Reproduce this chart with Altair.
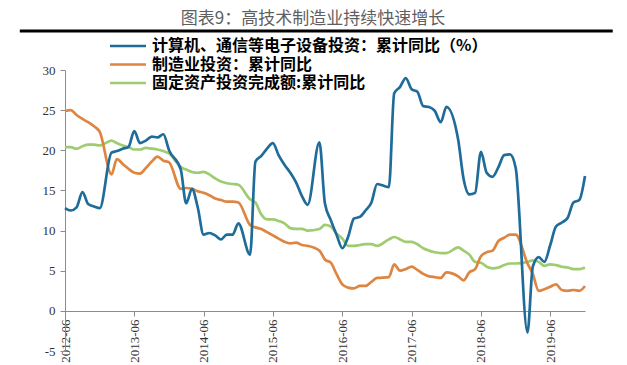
import altair as alt
import pandas as pd

# Months (cumulative data, January merged into February)
months = [
    "2012-06", "2012-07", "2012-08", "2012-09", "2012-10", "2012-11", "2012-12",
    "2013-02", "2013-03", "2013-04", "2013-05", "2013-06", "2013-07", "2013-08", "2013-09", "2013-10", "2013-11", "2013-12",
    "2014-02", "2014-03", "2014-04", "2014-05", "2014-06", "2014-07", "2014-08", "2014-09", "2014-10", "2014-11", "2014-12",
    "2015-02", "2015-03", "2015-04", "2015-05", "2015-06", "2015-07", "2015-08", "2015-09", "2015-10", "2015-11", "2015-12",
    "2016-02", "2016-03", "2016-04", "2016-05", "2016-06", "2016-07", "2016-08", "2016-09", "2016-10", "2016-11", "2016-12",
    "2017-02", "2017-03", "2017-04", "2017-05", "2017-06", "2017-07", "2017-08", "2017-09", "2017-10", "2017-11", "2017-12",
    "2018-02", "2018-03", "2018-04", "2018-05", "2018-06", "2018-07", "2018-08", "2018-09", "2018-10", "2018-11", "2018-12",
    "2019-02", "2019-03", "2019-04", "2019-05", "2019-06", "2019-07", "2019-08", "2019-09", "2019-10", "2019-11", "2019-12",
]

series_names = [
    "计算机、通信等电子设备投资：累计同比（%）",
    "制造业投资：累计同比",
    "固定资产投资完成额:累计同比",
]

electronics = [
    12.8, 12.5, 12.9, 14.8, 13.3, 13.0, 12.8,
    19.7, 19.9, 20.2, 20.4, 22.4, 20.9, 21.2, 21.7, 21.6, 22.0, 20.0,
    17.6, 13.4, 15.2, 12.9, 9.5, 9.7, 9.4, 8.9, 9.5, 9.5, 10.9,
    7.0, 18.6, 19.3, 20.2, 20.9, 19.4, 18.2, 17.2, 16.0, 14.3, 13.2,
    21.0, 13.4, 11.3, 9.5, 7.8, 9.2, 11.5, 11.7, 12.5, 13.5, 15.8,
    15.4, 27.1, 27.9, 29.0, 27.6, 27.3, 25.5, 25.4, 24.9, 23.5, 25.4,
    21.3, 16.5, 14.5, 14.7, 19.8, 17.2, 16.7, 17.9, 19.4, 19.5, 17.8,
    -2.7, 5.5, 6.7, 6.1, 8.2, 10.5, 11.0, 11.6, 13.5, 13.8, 16.8,
]

manufacturing = [
    24.9, 25.0, 24.4, 23.9, 23.5, 23.0, 22.3,
    17.0, 18.9, 18.3, 17.7, 17.2, 17.1, 17.8, 18.6, 19.2, 18.7, 18.5,
    15.2, 15.3, 15.2, 14.9, 14.7, 14.4, 14.0, 13.8, 13.6, 13.6, 13.5,
    10.7, 10.4, 10.2, 9.8, 9.4, 9.0, 8.6, 8.4, 8.5, 8.2, 8.1,
    7.5, 6.4, 6.0, 4.6, 3.3, 2.9, 2.8, 3.1, 3.1, 3.6, 4.1,
    4.2, 5.8, 5.0, 5.2, 5.5, 5.1, 4.6, 4.3, 4.2, 4.1, 4.8,
    4.3, 3.8, 4.8, 5.2, 6.8, 7.3, 7.5, 8.7, 9.1, 9.5, 9.5,
    5.9, 4.6, 2.5, 2.7, 3.0, 3.3, 2.6, 2.5, 2.6, 2.5, 3.1,
]

fixed_assets = [
    20.4, 20.4, 20.2, 20.5, 20.7, 20.7, 20.6,
    21.2, 20.9, 20.6, 20.4, 20.1, 20.1, 20.3, 20.2, 20.1, 19.9, 19.6,
    17.9, 17.6, 17.3, 17.2, 17.3, 17.0, 16.5, 16.1, 15.9, 15.8, 15.7,
    13.9, 13.5, 12.0, 11.4, 11.4, 11.2, 10.9, 10.3, 10.2, 10.2, 10.0,
    10.2, 10.7, 10.5, 9.6, 9.0, 8.1, 8.1, 8.2, 8.3, 8.3, 8.1,
    8.9, 9.2, 8.9, 8.6, 8.6, 8.3, 7.8, 7.5, 7.3, 7.2, 7.2,
    7.9, 7.5, 7.0, 6.1, 6.0, 5.5, 5.3, 5.4, 5.7, 5.9, 5.9,
    6.1, 6.3, 6.1, 5.6, 5.8, 5.7, 5.5, 5.4, 5.2, 5.2, 5.4,
]

tick_labels = [
    "2012-06", "2012-12", "2013-06", "2013-12", "2014-06", "2014-12",
    "2015-06", "2015-12", "2016-06", "2016-12", "2017-06", "2017-12",
    "2018-06", "2018-12", "2019-06", "2019-12",
]
y_ticks = [-5, 0, 5, 10, 15, 20, 25, 30]
colors = ["#1f6c9a", "#de8641", "#9fcc70"]

# Build long table; electronics last so it is drawn on top
rows = []
for name, vals in [(series_names[2], fixed_assets), (series_names[1], manufacturing), (series_names[0], electronics)]:
    for m, v in zip(months, vals):
        rows.append({"month": m + "-01", "series": name, "value": v})
df = pd.DataFrame(rows)

tick_values = [alt.DateTime(year=int(t[:4]), month=int(t[5:]), date=1, utc=True) for t in tick_labels]

lines = alt.Chart(df).mark_line(interpolate="monotone", strokeWidth=2.7).encode(
    x=alt.X(
        "month:T",
        scale=alt.Scale(
            type="utc",
            domain=[alt.DateTime(year=2012, month=6, date=1, utc=True),
                    alt.DateTime(year=2019, month=12, date=1, utc=True)],
        ),
        axis=alt.Axis(
            values=tick_values, format="%Y-%m", title=None, grid=False,
            labelAngle=270, labelAlign="right", labelBaseline="middle",
            labelFont="Liberation Serif", labelFontSize=13, labelColor="#333333",
            labelPadding=3, tickSize=5, tickColor="#8c8c8c", domainColor="#8c8c8c",
            offset=-40, labelOverlap=False,
        ),
    ),
    y=alt.Y(
        "value:Q",
        scale=alt.Scale(domain=[-5, 30], nice=False, zero=False),
        axis=alt.Axis(
            values=y_ticks, title=None, grid=False, labelExpr="toString(datum.value)",
            labelFont="Liberation Serif", labelFontSize=13, labelColor="#333333",
            labelPadding=5, tickSize=5, tickColor="#8c8c8c", domainColor="#8c8c8c",
        ),
    ),
    color=alt.Color(
        "series:N",
        scale=alt.Scale(domain=series_names, range=colors),
        legend=alt.Legend(
            orient="none", legendX=67, legendY=-32, title=None,
            symbolType="M-5,0H1", symbolSize=144, symbolStrokeWidth=2.6,
            labelFont="Noto Sans CJK SC", labelFontSize=16, labelFontWeight="bold",
            labelColor="#000000", labelLimit=500, rowPadding=2.5, labelOffset=4,
        ),
    ),
)

# thick black separator under the title (drawn above the plot area, unclipped)
bar = alt.Chart(pd.DataFrame({"a": [0]})).mark_rule(color="#000000", strokeWidth=3, clip=False).encode(
    x=alt.datum(alt.DateTime(year=2011, month=10, date=7, utc=True)),
    x2=alt.datum(alt.DateTime(year=2020, month=4, date=25, utc=True)),
    y=alt.datum(34.86),
)

chart = alt.layer(lines, bar).properties(
    width=520,
    height=281,
    title=alt.TitleParams(
        "图表9：高技术制造业持续快速增长",
        font="Noto Sans CJK SC", fontSize=17, fontWeight="normal",
        color="#5f5f5f", offset=1, dx=-12, anchor="middle",
    ),
    padding={"left": 57, "top": 62, "right": 34, "bottom": 14},
    autosize="none",
).configure_view(stroke=None).configure_axisX(labelOverlap=False)

chart.save("out.html", embed_options={"renderer": "svg", "actions": False})
